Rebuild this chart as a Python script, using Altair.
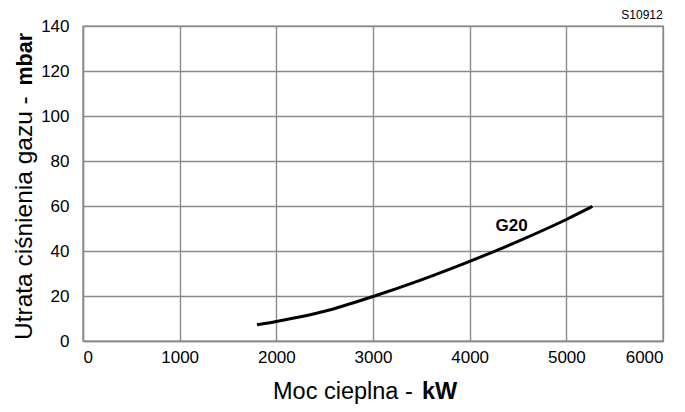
import altair as alt
import pandas as pd

# Data
power_kw = [1800, 2000, 2500, 3000, 3500, 4000, 4500, 5000, 5270]
loss_mbar = [7.2, 8.7, 13.2, 19.8, 27.2, 35.4, 44.3, 54.0, 59.8]
curve_label = ["G20"]
label_x = [4434]
label_y = [51.2]
x_ticks = [0, 1000, 2000, 3000, 4000, 5000, 6000]
y_ticks = [0, 20, 40, 60, 80, 100, 120, 140]
code_text = "S10912"

W, H = 580, 315
FONT = "Liberation Sans"
GRID = "#8a8a8a"

df = pd.DataFrame({"x": power_kw, "y": loss_mbar})
lab = pd.DataFrame({"x": label_x, "y": label_y, "t": curve_label})
one = pd.DataFrame({"a": [0]})

xs = alt.Scale(domain=[0, 6000], nice=False)
ys = alt.Scale(domain=[0, 140], nice=False)

xaxis = alt.Axis(values=x_ticks, format="d", title=None, grid=True, ticks=False,
                 labelFontSize=17, labelPadding=8, labelColor="#000",
                 labelFont=FONT, gridColor=GRID, gridWidth=1.4,
                 domainColor=GRID, domainWidth=1.4)
yaxis = alt.Axis(values=y_ticks, format="d", title=None, grid=True, ticks=False,
                 labelFontSize=17, labelPadding=14, labelColor="#000",
                 labelFont=FONT, gridColor=GRID, gridWidth=1.4,
                 domainColor=GRID, domainWidth=1.4)

line = alt.Chart(df).mark_line(color="black", strokeWidth=3, interpolate="monotone").encode(
    x=alt.X("x:Q", scale=xs, axis=xaxis),
    y=alt.Y("y:Q", scale=ys, axis=yaxis),
)

g20 = alt.Chart(lab).mark_text(fontSize=17, fontWeight="bold", font=FONT, color="black",
                               align="center", baseline="middle").encode(
    x=alt.X("x:Q", scale=xs), y=alt.Y("y:Q", scale=ys), text="t:N")


def txt(s, x, y, size, weight="normal", align="left", angle=0, baseline="alphabetic"):
    return alt.Chart(one).mark_text(text=s, fontSize=size, fontWeight=weight, font=FONT,
                                    color="black", align=align, angle=angle,
                                    baseline=baseline).encode(x=alt.value(x), y=alt.value(y))


xt1 = txt("Moc cieplna -", 190, 373, 23.5)
xt2 = txt("kW", 339, 373, 23.5, weight="bold")
yt1 = txt("Utrata ciśnienia gazu -", -51, 314, 24.5, angle=270)
yt2 = txt("mbar", -51, 7, 21.5, weight="bold", align="right", angle=270)
code = txt(code_text, 559, -7, 12, align="center")

chart = alt.layer(line, g20, xt1, xt2, yt1, yt2, code).properties(
    width=W, height=H,
    autosize=alt.AutoSizeParams(type="none"),
    padding={"left": 75, "top": 18, "right": 14, "bottom": 63},
).configure_view(stroke=GRID, strokeWidth=1.4)

chart.save("out.html", embed_options={"renderer": "svg", "actions": False})
